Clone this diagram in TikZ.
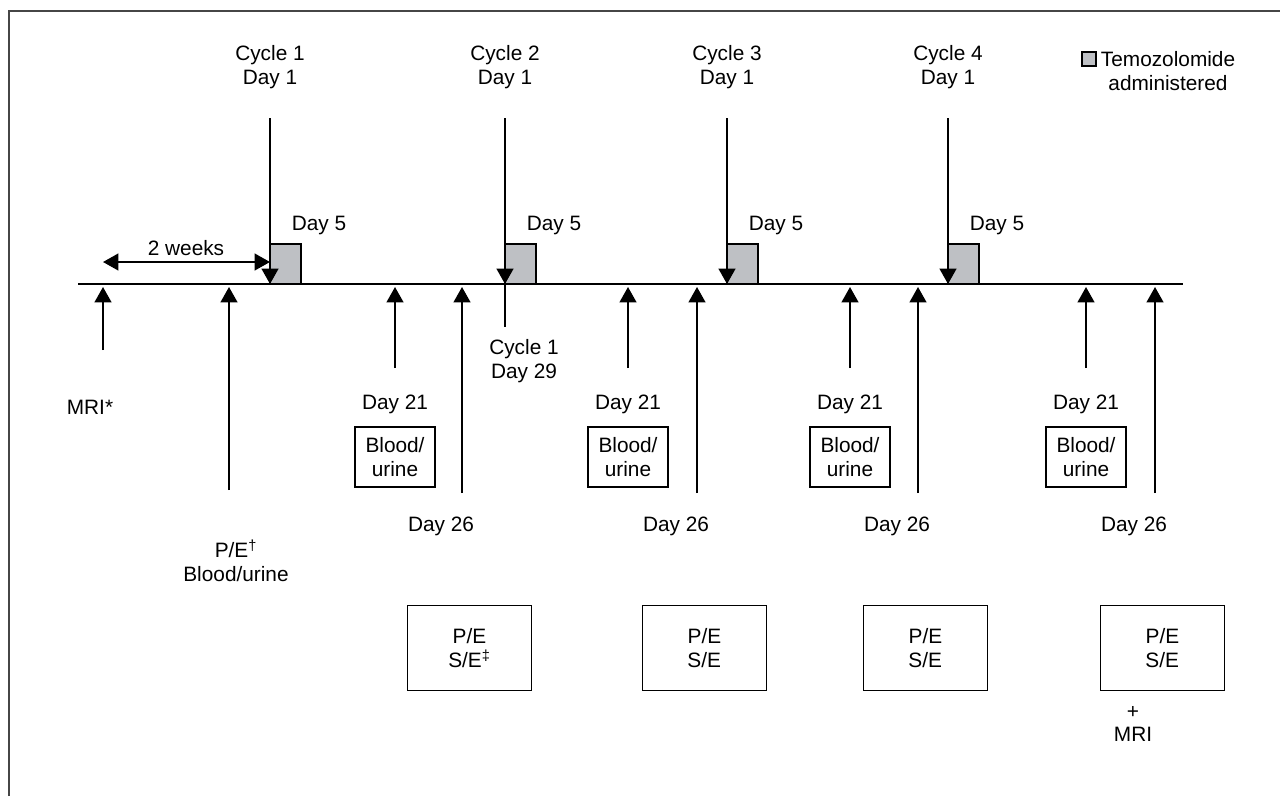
\documentclass[tikz,border=0pt]{standalone}
\usepackage{fontspec}
\setmainfont{Liberation Sans}
\usetikzlibrary{arrows.meta}
\definecolor{Drug}{RGB}{190,192,196}
\definecolor{Frame}{RGB}{70,70,70}
\tikzset{
    lbl/.style={font=\fontsize{14.8}{17}\selectfont, align=center, inner sep=0pt},
    evt/.style={line width=1.4pt, -{Triangle[width=12pt,length=11pt]}},
    span/.style={line width=1.4pt, {Triangle[width=12pt,length=11pt]}-{Triangle[width=12pt,length=11pt]}},
    drug/.style={draw, line width=0.9pt, fill=Drug},
    bloodbox/.style={lbl, draw, line width=0.9pt, minimum width=2.0cm, minimum height=1.5cm},
    visitbox/.style={lbl, draw, line width=0.9pt, minimum width=3.1cm, minimum height=2.12cm}
}
\begin{document}
\begin{tikzpicture}[x=0.025cm, y=-0.025cm]
        % Define the dimensions (in pixels of the page)
        \def\liney{284} % y of the time line
        \def\boxwidth{31} % width of a drug box
        \def\boxtop{244} % top of a drug box

        \useasboundingbox (0,0) rectangle (1280,796);

        % Frame, only the top and left edge show
        \draw[Frame, line width=1.3pt] (9,796) -- (9,11) -- (1280,11);

        % Draw the time line
        \coordinate (tstart) at (78,\liney);
        \coordinate (tend) at (1183,\liney);
        \draw[line width=0.9pt] (tstart) -- (tend);

        % Legend
        \draw[drug] (1082,52) rectangle (1096,66);
        \node[lbl] (legend) at (1168,71) {Temozolomide\\administered};

        % Cycles: Day 1 arrow, drug box and Day 5
        \foreach \c/\x in {1/270, 2/505, 3/727, 4/948} {
            \node[lbl] (cycle\c) at (\x, 67) {Cycle \c\\Day 1};
            \coordinate (cycletop\c) at (\x, 118);
            \coordinate (cycleday\c) at (\x, \liney);
            \draw[drug] (\x, \boxtop) rectangle (\x+\boxwidth, \liney);
            \node[lbl] (dayfive\c) at (\x+49, 225) {Day 5};
            \draw[evt] (cycletop\c) -- (cycleday\c);
        }

        % Before cycle 1
        \coordinate (weekstart) at (103,262);
        \coordinate (weekend) at (270,262);
        \draw[span] (weekstart) -- (weekend);
        \node[lbl] (weeks) at (186,248) {2 weeks};

        \coordinate (mribottom) at (103,350);
        \coordinate (mriline) at (103,287);
        \draw[evt] (mribottom) -- (mriline);
        \node[lbl] (mri) at (90,407) {MRI*};

        \coordinate (pebottom) at (229,490);
        \coordinate (peline) at (229,287);
        \draw[evt] (pebottom) -- (peline);
        \node[lbl] (pe) at (236,561) {P/E\textsuperscript{\dag}\\Blood/urine};

        % Cycle 1 ends on Day 29
        \coordinate (endone) at (505,327);
        \draw[line width=1.4pt] (cycleday2) -- (endone);
        \node[lbl] (daytwentynine) at (524,361) {Cycle 1\\Day 29};

        % Day 21 checks
        \foreach \i/\x in {1/395, 2/628, 3/850, 4/1086} {
            \coordinate (dtwoonebottom\i) at (\x, 368);
            \coordinate (dtwooneline\i) at (\x, 287);
            \draw[evt] (dtwoonebottom\i) -- (dtwooneline\i);
            \node[lbl] (dtwoone\i) at (\x, 404) {Day 21};
            \node[bloodbox] (blood\i) at (\x, 457) {Blood/\\urine};
        }

        % Day 26 checks
        \foreach \i/\x/\mk in {1/462/\ddag, 2/697/{}, 3/918/{}, 4/1155/{}} {
            \coordinate (dtwosixbottom\i) at (\x, 493);
            \coordinate (dtwosixline\i) at (\x, 287);
            \draw[evt] (dtwosixbottom\i) -- (dtwosixline\i);
            \node[lbl] (dtwosix\i) at (\x-21, 526) {Day 26};
            \node[visitbox] (visit\i) at (\x+7.5, 648) {P/E\\S/E\textsuperscript{\mk}};
        }

        % MRI after cycle 4
        \node[lbl] (mriend) at (1133,724) {+\\MRI};
    \end{tikzpicture}
\end{document}
